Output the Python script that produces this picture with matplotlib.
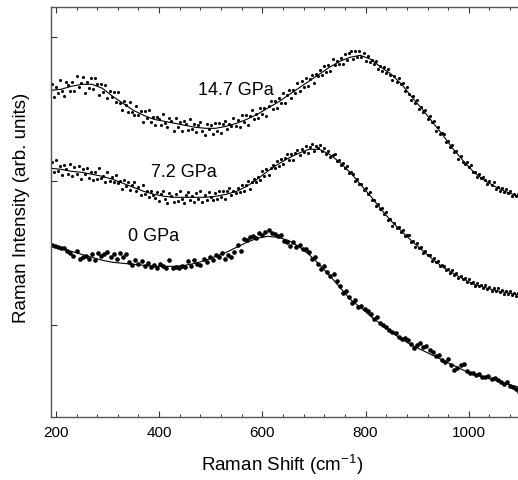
import numpy as np
import matplotlib
matplotlib.use("Agg")
from matplotlib import pyplot as plt

plt.rcParams['font.family'] = ['Liberation Sans', 'DejaVu Sans']
plt.rcParams['mathtext.default'] = 'regular'

# fitted curves, sampled every 20 cm-1 (intensity in arbitrary units)
fit_x = np.append(np.arange(190, 1091, 20), 1100)
fit_147 = [327, 328, 331, 333, 333, 329, 321, 314, 307, 302,
           298, 296, 294, 292, 290, 289, 289, 291, 294, 298,
           303, 309, 315, 322, 329, 336, 343, 350, 356, 360,
           362, 358, 350, 343, 333, 320, 308, 295, 282, 268,
           256, 245, 237, 231, 226, 222, 221]
fit_72 = [249, 248, 246, 245, 243, 241, 238, 234, 230, 226,
          223, 221, 220, 220, 220, 220, 221, 223, 226, 231,
          238, 246, 253, 259, 264, 268, 268, 263, 255, 245,
          233, 221, 208, 196, 186, 176, 167, 158, 150, 144,
          138, 133, 130, 127, 125, 123, 123]
fit_0 = [172, 169, 166, 163, 160, 157, 155, 154, 153, 152,
         151, 151, 151, 152, 154, 157, 161, 165, 170, 175,
         179, 181, 180, 177, 171, 163, 153, 142, 130, 118,
         110, 101, 93, 85, 78, 72, 67, 62, 57, 52,
         47, 43, 40, 37, 34, 31, 30]

# measured spectra (14.7 and 7.2 GPa: 192..1096 cm-1, 0 GPa: 192..1098 cm-1)
data_147 = [333, 320, 330, 324, 337, 326, 321, 335, 332, 326,
            335, 326, 341, 330, 334, 340, 324, 335, 329, 339,
            328, 339, 333, 322, 333, 325, 332, 319, 326, 320,
            325, 315, 325, 314, 307, 316, 312, 305, 315, 305,
            302, 311, 302, 306, 295, 306, 299, 307, 295, 300,
            292, 300, 298, 292, 303, 294, 290, 299, 296, 286,
            299, 290, 295, 286, 296, 293, 287, 298, 288, 293,
            285, 292, 295, 286, 282, 293, 288, 292, 283, 294,
            286, 294, 284, 293, 296, 288, 293, 291, 299, 291,
            297, 290, 302, 295, 302, 292, 301, 307, 298, 303,
            299, 309, 303, 309, 301, 311, 316, 308, 316, 309,
            319, 314, 324, 314, 322, 327, 319, 327, 324, 334,
            326, 336, 330, 339, 331, 338, 342, 334, 343, 341,
            347, 342, 351, 345, 352, 346, 358, 352, 356, 353,
            359, 353, 363, 357, 364, 366, 358, 366, 360, 366,
            360, 364, 356, 361, 355, 357, 353, 356, 348, 351,
            346, 350, 344, 348, 342, 337, 341, 335, 339, 333,
            334, 326, 330, 323, 317, 321, 314, 317, 308, 310,
            305, 307, 298, 301, 295, 296, 286, 290, 283, 284,
            283, 275, 276, 270, 272, 265, 266, 258, 261, 255,
            253, 255, 250, 252, 245, 245, 240, 243, 239, 240,
            237, 233, 236, 232, 235, 228, 230, 226, 229, 225,
            228, 224, 226, 221, 223, 221, 223]
data_72 = [255, 245, 257, 246, 251, 242, 252, 248, 243, 253,
           241, 250, 243, 251, 238, 248, 243, 249, 239, 245,
           237, 245, 238, 249, 239, 241, 235, 245, 236, 240,
           235, 242, 234, 236, 228, 237, 231, 235, 227, 232,
           235, 226, 230, 222, 232, 223, 226, 220, 226, 222,
           219, 225, 216, 223, 226, 218, 214, 224, 221, 215,
           223, 216, 226, 218, 214, 222, 225, 217, 221, 215,
           224, 218, 226, 215, 222, 217, 225, 220, 217, 224,
           218, 226, 220, 226, 218, 226, 229, 222, 226, 224,
           229, 225, 232, 226, 232, 236, 228, 235, 238, 235,
           240, 237, 246, 241, 248, 242, 249, 252, 249, 256,
           251, 258, 253, 259, 263, 257, 263, 257, 264, 267,
           262, 268, 265, 271, 264, 270, 273, 266, 271, 269,
           272, 266, 269, 263, 266, 260, 262, 263, 256, 257,
           252, 254, 249, 251, 244, 245, 243, 236, 238, 233,
           233, 227, 229, 223, 225, 217, 217, 211, 213, 208,
           209, 203, 205, 197, 198, 191, 194, 189, 190, 185,
           187, 181, 182, 182, 175, 176, 170, 174, 169, 170,
           164, 166, 162, 162, 156, 159, 155, 156, 151, 152,
           151, 147, 148, 144, 147, 142, 144, 139, 141, 138,
           139, 135, 138, 134, 135, 131, 134, 131, 132, 129,
           132, 128, 130, 126, 129, 126, 129, 125, 127, 123,
           126, 123, 126, 122, 124, 121, 124]
data_0 = [172, 171, 170, 169, 169, 166,
          164, 161, 166, 158, 160, 161,
          158, 163, 157, 164, 161, 163, 165, 160, 163, 158,
          164, 160, 163, 155, 152, 157, 153, 156, 151, 154,
          150, 152, 149, 153, 151, 149, 157, 149,
          150, 149, 151, 150, 156, 151, 157, 153, 152, 158,
          155, 160, 157, 162, 160, 164, 158, 162, 160, 165,
          172, 166, 178, 177, 180, 181, 179, 184, 182, 185,
          187, 184, 183, 181, 182, 176, 175, 171, 175, 170,
          172, 168, 168, 165, 158, 160, 153, 148, 151, 145,
          141, 143, 136, 131, 124, 126, 120, 114, 117, 110,
          111, 108, 106, 103, 98, 100, 94, 92, 90, 87,
          85, 84, 80, 78, 79, 77, 73, 69, 72, 74,
          70, 71, 67, 65, 61, 62, 57, 55, 58, 52,
          47, 49, 52, 53, 46, 44, 44, 42, 43, 40,
          40, 41, 38, 39, 37, 35, 33, 35, 31, 30,
          28, 25]

labels = ['14.7 GPa', '7.2 GPa', '0 GPa']
label_x = [549, 448, 390]
label_y = [327, 245, 181]

fig = plt.figure(figsize=(5.18, 4.8), dpi=100)
ax = fig.add_axes([0.0979, 0.1306, 0.9068, 0.8542])

ax.scatter(np.linspace(192, 1096, len(data_147)), data_147, s=5, c='k', lw=0)
ax.scatter(np.linspace(192, 1096, len(data_72)), data_72, s=5, c='k', lw=0)
ax.scatter(np.linspace(192, 1098, len(data_0)), data_0, s=11, c='k', lw=0)
for f in (fit_147, fit_72, fit_0):
    ax.plot(fit_x, f, color='k', lw=0.8)

for t, tx, ty in zip(labels, label_x, label_y):
    ax.text(tx, ty, t, ha='center', va='center', fontsize=13)

ax.set_xlim(190, 1100)
ax.set_ylim(0, 410)
ax.set_xticks([200, 400, 600, 800, 1000])
ax.set_xticks(np.arange(200, 1100, 40), minor=True)
ax.set_yticks([92, 236, 380])
ax.set_yticklabels([])
ax.tick_params(which='both', direction='in', top=True, right=False, color='#333333')
ax.tick_params(which='major', length=4.5, width=0.8, labelsize=11, pad=6)
ax.tick_params(which='minor', length=2.5, width=0.7)
for side in ['left', 'bottom', 'top', 'right']:
    ax.spines[side].set_color('#555555')
    ax.spines[side].set_linewidth(1.0)

# axis titles placed in figure pixels
fig.text(282.5 / 518, 1 - 465 / 480, 'Raman Shift (cm$^{-1}$)',
         ha='center', va='center', fontsize=13.5)
fig.text(22 / 518, 1 - 208 / 480, 'Raman Intensity (arb. units)',
         ha='center', va='center', rotation=90, fontsize=13.5)

fig.savefig('out.png', dpi=100)
